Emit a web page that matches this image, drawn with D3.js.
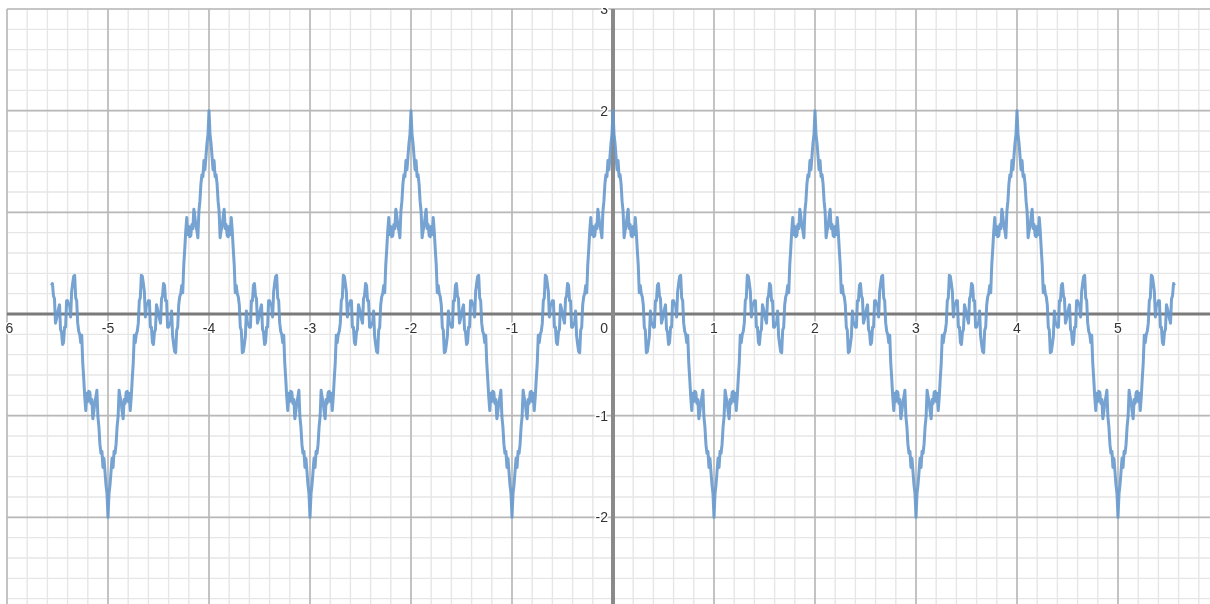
<!DOCTYPE html>
<html>
<head>
<meta charset="utf-8">
<script src="https://cdn.jsdelivr.net/npm/d3@7"></script>
<style>
  html, body { margin: 0; padding: 0; background: #fff; }
  svg { display: block; }
</style>
</head>
<body>
<div id="graph"></div>
<script>
// Size of the picture
var width = 1210;
var height = 604;

var xFirst = -5.56;
var xStep = 0.01;
var curveY = [
  // -5.56 .. -5.01
  0.28, 0.30, 0.18, 0.15, -0.09, -0.05,
  0.00, 0.05, 0.09, -0.15, -0.18, -0.30, -0.28, -0.13, -0.13, 0.13,
  0.13, 0.09, 0.09, -0.03, 0.22, 0.30, 0.37, 0.38, 0.16, 0.13,
  -0.09, -0.17, -0.20, -0.28, -0.21, -0.48, -0.64, -0.82, -0.95, -0.78,
  -0.86, -0.76, -0.77, -0.88, -0.84, -1.03, -0.96, -0.87, -0.82, -0.75,
  -1.01, -1.11, -1.28, -1.37, -1.35, -1.51, -1.42, -1.55, -1.68, -1.77,
  // -5.00 .. -4.01
  -2.00, -1.77, -1.68, -1.55, -1.42, -1.51, -1.35, -1.37, -1.28, -1.11,
  -1.01, -0.75, -0.82, -0.87, -0.96, -1.03, -0.84, -0.88, -0.77, -0.76,
  -0.86, -0.78, -0.95, -0.82, -0.64, -0.48, -0.21, -0.28, -0.20, -0.17,
  -0.09, 0.13, 0.16, 0.38, 0.37, 0.30, 0.22, -0.03, 0.09, 0.09,
  0.13, 0.13, -0.13, -0.13, -0.28, -0.30, -0.18, -0.15, 0.09, 0.05,
  0.00, -0.05, -0.09, 0.15, 0.18, 0.30, 0.28, 0.13, 0.13, -0.13,
  -0.13, -0.09, -0.09, 0.03, -0.22, -0.30, -0.37, -0.38, -0.16, -0.13,
  0.09, 0.17, 0.20, 0.28, 0.21, 0.48, 0.64, 0.82, 0.95, 0.78,
  0.86, 0.76, 0.77, 0.88, 0.84, 1.03, 0.96, 0.87, 0.82, 0.75,
  1.01, 1.11, 1.28, 1.37, 1.35, 1.51, 1.42, 1.55, 1.68, 1.77,
  // -4.00 .. -3.01
  2.00, 1.77, 1.68, 1.55, 1.42, 1.51, 1.35, 1.37, 1.28, 1.11,
  1.01, 0.75, 0.82, 0.87, 0.96, 1.03, 0.84, 0.88, 0.77, 0.76,
  0.86, 0.78, 0.95, 0.82, 0.64, 0.48, 0.21, 0.28, 0.20, 0.17,
  0.09, -0.13, -0.16, -0.38, -0.37, -0.30, -0.22, 0.03, -0.09, -0.09,
  -0.13, -0.13, 0.13, 0.13, 0.28, 0.30, 0.18, 0.15, -0.09, -0.05,
  0.00, 0.05, 0.09, -0.15, -0.18, -0.30, -0.28, -0.13, -0.13, 0.13,
  0.13, 0.09, 0.09, -0.03, 0.22, 0.30, 0.37, 0.38, 0.16, 0.13,
  -0.09, -0.17, -0.20, -0.28, -0.21, -0.48, -0.64, -0.82, -0.95, -0.78,
  -0.86, -0.76, -0.77, -0.88, -0.84, -1.03, -0.96, -0.87, -0.82, -0.75,
  -1.01, -1.11, -1.28, -1.37, -1.35, -1.51, -1.42, -1.55, -1.68, -1.77,
  // -3.00 .. -2.01
  -2.00, -1.77, -1.68, -1.55, -1.42, -1.51, -1.35, -1.37, -1.28, -1.11,
  -1.01, -0.75, -0.82, -0.87, -0.96, -1.03, -0.84, -0.88, -0.77, -0.76,
  -0.86, -0.78, -0.95, -0.82, -0.64, -0.48, -0.21, -0.28, -0.20, -0.17,
  -0.09, 0.13, 0.16, 0.38, 0.37, 0.30, 0.22, -0.03, 0.09, 0.09,
  0.13, 0.13, -0.13, -0.13, -0.28, -0.30, -0.18, -0.15, 0.09, 0.05,
  0.00, -0.05, -0.09, 0.15, 0.18, 0.30, 0.28, 0.13, 0.13, -0.13,
  -0.13, -0.09, -0.09, 0.03, -0.22, -0.30, -0.37, -0.38, -0.16, -0.13,
  0.09, 0.17, 0.20, 0.28, 0.21, 0.48, 0.64, 0.82, 0.95, 0.78,
  0.86, 0.76, 0.77, 0.88, 0.84, 1.03, 0.96, 0.87, 0.82, 0.75,
  1.01, 1.11, 1.28, 1.37, 1.35, 1.51, 1.42, 1.55, 1.68, 1.77,
  // -2.00 .. -1.01
  2.00, 1.77, 1.68, 1.55, 1.42, 1.51, 1.35, 1.37, 1.28, 1.11,
  1.01, 0.75, 0.82, 0.87, 0.96, 1.03, 0.84, 0.88, 0.77, 0.76,
  0.86, 0.78, 0.95, 0.82, 0.64, 0.48, 0.21, 0.28, 0.20, 0.17,
  0.09, -0.13, -0.16, -0.38, -0.37, -0.30, -0.22, 0.03, -0.09, -0.09,
  -0.13, -0.13, 0.13, 0.13, 0.28, 0.30, 0.18, 0.15, -0.09, -0.05,
  0.00, 0.05, 0.09, -0.15, -0.18, -0.30, -0.28, -0.13, -0.13, 0.13,
  0.13, 0.09, 0.09, -0.03, 0.22, 0.30, 0.37, 0.38, 0.16, 0.13,
  -0.09, -0.17, -0.20, -0.28, -0.21, -0.48, -0.64, -0.82, -0.95, -0.78,
  -0.86, -0.76, -0.77, -0.88, -0.84, -1.03, -0.96, -0.87, -0.82, -0.75,
  -1.01, -1.11, -1.28, -1.37, -1.35, -1.51, -1.42, -1.55, -1.68, -1.77,
  // -1.00 .. -0.01
  -2.00, -1.77, -1.68, -1.55, -1.42, -1.51, -1.35, -1.37, -1.28, -1.11,
  -1.01, -0.75, -0.82, -0.87, -0.96, -1.03, -0.84, -0.88, -0.77, -0.76,
  -0.86, -0.78, -0.95, -0.82, -0.64, -0.48, -0.21, -0.28, -0.20, -0.17,
  -0.09, 0.13, 0.16, 0.38, 0.37, 0.30, 0.22, -0.03, 0.09, 0.09,
  0.13, 0.13, -0.13, -0.13, -0.28, -0.30, -0.18, -0.15, 0.09, 0.05,
  0.00, -0.05, -0.09, 0.15, 0.18, 0.30, 0.28, 0.13, 0.13, -0.13,
  -0.13, -0.09, -0.09, 0.03, -0.22, -0.30, -0.37, -0.38, -0.16, -0.13,
  0.09, 0.17, 0.20, 0.28, 0.21, 0.48, 0.64, 0.82, 0.95, 0.78,
  0.86, 0.76, 0.77, 0.88, 0.84, 1.03, 0.96, 0.87, 0.82, 0.75,
  1.01, 1.11, 1.28, 1.37, 1.35, 1.51, 1.42, 1.55, 1.68, 1.77,
  // 0.00 .. 0.99
  2.00, 1.77, 1.68, 1.55, 1.42, 1.51, 1.35, 1.37, 1.28, 1.11,
  1.01, 0.75, 0.82, 0.87, 0.96, 1.03, 0.84, 0.88, 0.77, 0.76,
  0.86, 0.78, 0.95, 0.82, 0.64, 0.48, 0.21, 0.28, 0.20, 0.17,
  0.09, -0.13, -0.16, -0.38, -0.37, -0.30, -0.22, 0.03, -0.09, -0.09,
  -0.13, -0.13, 0.13, 0.13, 0.28, 0.30, 0.18, 0.15, -0.09, -0.05,
  0.00, 0.05, 0.09, -0.15, -0.18, -0.30, -0.28, -0.13, -0.13, 0.13,
  0.13, 0.09, 0.09, -0.03, 0.22, 0.30, 0.37, 0.38, 0.16, 0.13,
  -0.09, -0.17, -0.20, -0.28, -0.21, -0.48, -0.64, -0.82, -0.95, -0.78,
  -0.86, -0.76, -0.77, -0.88, -0.84, -1.03, -0.96, -0.87, -0.82, -0.75,
  -1.01, -1.11, -1.28, -1.37, -1.35, -1.51, -1.42, -1.55, -1.68, -1.77,
  // 1.00 .. 1.99
  -2.00, -1.77, -1.68, -1.55, -1.42, -1.51, -1.35, -1.37, -1.28, -1.11,
  -1.01, -0.75, -0.82, -0.87, -0.96, -1.03, -0.84, -0.88, -0.77, -0.76,
  -0.86, -0.78, -0.95, -0.82, -0.64, -0.48, -0.21, -0.28, -0.20, -0.17,
  -0.09, 0.13, 0.16, 0.38, 0.37, 0.30, 0.22, -0.03, 0.09, 0.09,
  0.13, 0.13, -0.13, -0.13, -0.28, -0.30, -0.18, -0.15, 0.09, 0.05,
  0.00, -0.05, -0.09, 0.15, 0.18, 0.30, 0.28, 0.13, 0.13, -0.13,
  -0.13, -0.09, -0.09, 0.03, -0.22, -0.30, -0.37, -0.38, -0.16, -0.13,
  0.09, 0.17, 0.20, 0.28, 0.21, 0.48, 0.64, 0.82, 0.95, 0.78,
  0.86, 0.76, 0.77, 0.88, 0.84, 1.03, 0.96, 0.87, 0.82, 0.75,
  1.01, 1.11, 1.28, 1.37, 1.35, 1.51, 1.42, 1.55, 1.68, 1.77,
  // 2.00 .. 2.99
  2.00, 1.77, 1.68, 1.55, 1.42, 1.51, 1.35, 1.37, 1.28, 1.11,
  1.01, 0.75, 0.82, 0.87, 0.96, 1.03, 0.84, 0.88, 0.77, 0.76,
  0.86, 0.78, 0.95, 0.82, 0.64, 0.48, 0.21, 0.28, 0.20, 0.17,
  0.09, -0.13, -0.16, -0.38, -0.37, -0.30, -0.22, 0.03, -0.09, -0.09,
  -0.13, -0.13, 0.13, 0.13, 0.28, 0.30, 0.18, 0.15, -0.09, -0.05,
  0.00, 0.05, 0.09, -0.15, -0.18, -0.30, -0.28, -0.13, -0.13, 0.13,
  0.13, 0.09, 0.09, -0.03, 0.22, 0.30, 0.37, 0.38, 0.16, 0.13,
  -0.09, -0.17, -0.20, -0.28, -0.21, -0.48, -0.64, -0.82, -0.95, -0.78,
  -0.86, -0.76, -0.77, -0.88, -0.84, -1.03, -0.96, -0.87, -0.82, -0.75,
  -1.01, -1.11, -1.28, -1.37, -1.35, -1.51, -1.42, -1.55, -1.68, -1.77,
  // 3.00 .. 3.99
  -2.00, -1.77, -1.68, -1.55, -1.42, -1.51, -1.35, -1.37, -1.28, -1.11,
  -1.01, -0.75, -0.82, -0.87, -0.96, -1.03, -0.84, -0.88, -0.77, -0.76,
  -0.86, -0.78, -0.95, -0.82, -0.64, -0.48, -0.21, -0.28, -0.20, -0.17,
  -0.09, 0.13, 0.16, 0.38, 0.37, 0.30, 0.22, -0.03, 0.09, 0.09,
  0.13, 0.13, -0.13, -0.13, -0.28, -0.30, -0.18, -0.15, 0.09, 0.05,
  0.00, -0.05, -0.09, 0.15, 0.18, 0.30, 0.28, 0.13, 0.13, -0.13,
  -0.13, -0.09, -0.09, 0.03, -0.22, -0.30, -0.37, -0.38, -0.16, -0.13,
  0.09, 0.17, 0.20, 0.28, 0.21, 0.48, 0.64, 0.82, 0.95, 0.78,
  0.86, 0.76, 0.77, 0.88, 0.84, 1.03, 0.96, 0.87, 0.82, 0.75,
  1.01, 1.11, 1.28, 1.37, 1.35, 1.51, 1.42, 1.55, 1.68, 1.77,
  // 4.00 .. 4.99
  2.00, 1.77, 1.68, 1.55, 1.42, 1.51, 1.35, 1.37, 1.28, 1.11,
  1.01, 0.75, 0.82, 0.87, 0.96, 1.03, 0.84, 0.88, 0.77, 0.76,
  0.86, 0.78, 0.95, 0.82, 0.64, 0.48, 0.21, 0.28, 0.20, 0.17,
  0.09, -0.13, -0.16, -0.38, -0.37, -0.30, -0.22, 0.03, -0.09, -0.09,
  -0.13, -0.13, 0.13, 0.13, 0.28, 0.30, 0.18, 0.15, -0.09, -0.05,
  0.00, 0.05, 0.09, -0.15, -0.18, -0.30, -0.28, -0.13, -0.13, 0.13,
  0.13, 0.09, 0.09, -0.03, 0.22, 0.30, 0.37, 0.38, 0.16, 0.13,
  -0.09, -0.17, -0.20, -0.28, -0.21, -0.48, -0.64, -0.82, -0.95, -0.78,
  -0.86, -0.76, -0.77, -0.88, -0.84, -1.03, -0.96, -0.87, -0.82, -0.75,
  -1.01, -1.11, -1.28, -1.37, -1.35, -1.51, -1.42, -1.55, -1.68, -1.77,
  // 5.00 .. 5.56
  -2.00, -1.77, -1.68, -1.55, -1.42, -1.51, -1.35, -1.37, -1.28, -1.11,
  -1.01, -0.75, -0.82, -0.87, -0.96, -1.03, -0.84, -0.88, -0.77, -0.76,
  -0.86, -0.78, -0.95, -0.82, -0.64, -0.48, -0.21, -0.28, -0.20, -0.17,
  -0.09, 0.13, 0.16, 0.38, 0.37, 0.30, 0.22, -0.03, 0.09, 0.09,
  0.13, 0.13, -0.13, -0.13, -0.28, -0.30, -0.18, -0.15, 0.09, 0.05,
  0.00, -0.05, -0.09, 0.15, 0.18, 0.30, 0.28
];

// Tick labels shown on the graph
var xTickLabels = [-6, -5, -4, -3, -2, -1, 1, 2, 3, 4, 5];
var yTickLabels = [3, 2, -1, -2];

// Scales
var x = d3.scaleLinear().domain([-6, 6]).range([7, 1219]);
var y = d3.scaleLinear().domain([3, -3]).range([9, 619]);

var svg = d3.select("#graph")
    .append("svg")
    .attr("width", width)
    .attr("height", height)
    .style("background", "#fff");

var defs = svg.append("defs");

// Grid area clip (the pane starts at x = -6, y = 3)
defs.append("clipPath")
    .attr("id", "pane")
    .append("rect")
    .attr("x", x(-6) - 1)
    .attr("y", y(3) - 1)
    .attr("width", width)
    .attr("height", height);

// Soft edge, the source picture is upscaled
defs.append("filter")
    .attr("id", "soft")
    .append("feGaussianBlur")
    .attr("stdDeviation", 0.5);

var g = svg.append("g").attr("clip-path", "url(#pane)");

// Minor grid (every 0.2)
g.append("g").selectAll("line")
    .data(x.ticks(60))
    .enter().append("line")
    .attr("x1", function(d) { return x(d); })
    .attr("x2", function(d) { return x(d); })
    .attr("y1", y(3))
    .attr("y2", height)
    .attr("stroke", "#e6e6e6")
    .attr("stroke-width", 1.4);

g.append("g").selectAll("line")
    .data(y.ticks(30))
    .enter().append("line")
    .attr("x1", x(-6))
    .attr("x2", width)
    .attr("y1", function(d) { return y(d); })
    .attr("y2", function(d) { return y(d); })
    .attr("stroke", "#e6e6e6")
    .attr("stroke-width", 1.4);

// Major grid (every 1)
g.append("g").selectAll("line")
    .data(x.ticks(12))
    .enter().append("line")
    .attr("x1", function(d) { return x(d); })
    .attr("x2", function(d) { return x(d); })
    .attr("y1", y(3))
    .attr("y2", height)
    .attr("stroke", "#b8b8b8")
    .attr("stroke-width", 1.6);

g.append("g").selectAll("line")
    .data(y.ticks(6))
    .enter().append("line")
    .attr("x1", x(-6))
    .attr("x2", width)
    .attr("y1", function(d) { return y(d); })
    .attr("y2", function(d) { return y(d); })
    .attr("stroke", "#b8b8b8")
    .attr("stroke-width", 1.6);

// Axes
g.append("line")
    .attr("x1", x(-6)).attr("x2", width)
    .attr("y1", y(0)).attr("y2", y(0))
    .attr("stroke", "#7a7a7a")
    .attr("stroke-width", 3);

g.append("line")
    .attr("x1", x(0)).attr("x2", x(0))
    .attr("y1", y(3)).attr("y2", height)
    .attr("stroke", "#8a8a8a")
    .attr("stroke-width", 4);

// Tick labels
var labels = g.append("g")
    .attr("filter", "url(#soft)")
    .style("font-family", "'Liberation Sans', Arial, sans-serif")
    .style("font-size", "14px")
    .attr("fill", "#333")
    .attr("stroke", "#fff")
    .attr("stroke-width", 3)
    .attr("paint-order", "stroke")
    .attr("dominant-baseline", "central");

labels.selectAll(".xl")
    .data(xTickLabels)
    .enter().append("text")
    .attr("class", "xl")
    .attr("x", function(d) { return x(d); })
    .attr("y", y(0) + 14)
    .attr("text-anchor", "middle")
    .text(function(d) { return d; });

labels.append("text")
    .attr("x", x(0) - 5)
    .attr("y", y(0) + 14)
    .attr("text-anchor", "end")
    .text("0");

labels.selectAll(".yl")
    .data(yTickLabels)
    .enter().append("text")
    .attr("class", "yl")
    .attr("x", x(0) - 5)
    .attr("y", function(d) { return y(d); })
    .attr("text-anchor", "end")
    .text(function(d) { return d; });

// The curve
var line = d3.line()
    .x(function(d, i) { return x(xFirst + i * xStep); })
    .y(function(d) { return y(d); });

g.append("path")
    .datum(curveY)
    .attr("d", line)
    .attr("fill", "none")
    .attr("stroke", "#6699cc")
    .attr("stroke-width", 3)
    .attr("stroke-opacity", 0.9)
    .attr("stroke-linejoin", "round")
    .attr("filter", "url(#soft)");
</script>
</body>
</html>
